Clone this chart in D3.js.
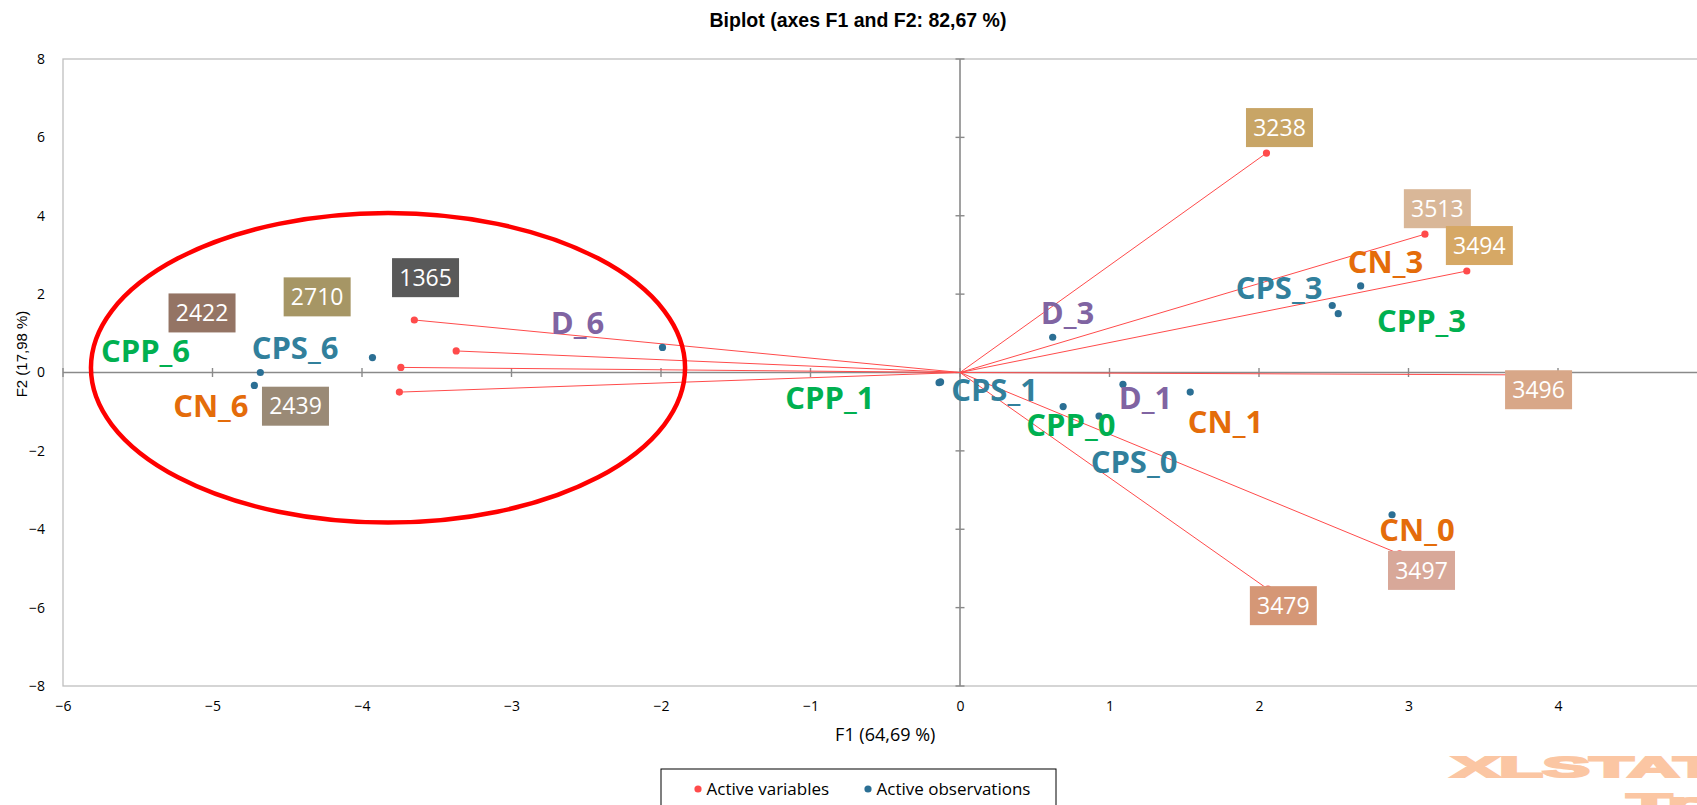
<!DOCTYPE html>
<html>
<head>
<meta charset="utf-8">
<script src="https://cdn.jsdelivr.net/npm/d3@7"></script>
<style>
  html, body { margin: 0; padding: 0; background: #ffffff; }
  svg { display: block; }
</style>
</head>
<body>
<svg id="chart" width="1697" height="805"></svg>
<script>
// ---------------- data ----------------
const titleText = "Biplot (axes F1 and F2: 82,67 %)";
const xAxisTitle = "F1 (64,69 %)";
const yAxisTitle = "F2 (17,98 %)";
const xTicks = [-6, -5, -4, -3, -2, -1, 0, 1, 2, 3, 4];
const yTicks = [-8, -6, -4, -2, 0, 2, 4, 6, 8];
const legendLabels = ["Active variables", "Active observations"];

// active variables (vectors)
const varNames  = ["1365", "2710", "2422", "2439", "3238", "3513", "3494", "3496", "3497", "3479"];
const varF1     = [-3.65, -3.37, -3.74, -3.75, 2.05, 3.11, 3.39, 3.72, 2.94, 2.06];
const varF2     = [1.34, 0.55, 0.13, -0.50, 5.60, 3.53, 2.59, -0.06, -4.63, -5.53];
const varLabelF1 = [-3.575, -4.30, -5.07, -4.445, 2.137, 3.193, 3.474, 3.87, 3.087, 2.163];
const varLabelF2 = [2.42, 1.93, 1.52, -0.86, 6.25, 4.18, 3.24, -0.44, -5.05, -5.95];

// active observations
const obsNames  = ["CPP_6", "CPS_6", "CN_6", "D_6", "CPP_1", "CPS_1", "D_1", "CN_1", "CPP_0", "CPS_0", "CN_0", "D_3", "CPS_3", "CN_3", "CPP_3"];
const obsF1     = [-4.68, -3.93, -4.72, -1.99, -0.13, -0.14, 1.09, 1.54, 0.69, 0.93, 2.89, 0.62, 2.49, 2.68, 2.53];
const obsF2     = [0.00, 0.38, -0.33, 0.64, -0.24, -0.26, -0.30, -0.50, -0.87, -1.11, -3.63, 0.90, 1.71, 2.21, 1.50];
const obsLabelF1 = [-5.448, -4.448, -5.011, -2.559, -0.870, 0.231, 1.241, 1.776, 0.742, 1.164, 3.057, 0.719, 2.134, 2.846, 3.087];
const obsLabelF2 = [0.545, 0.62, -0.86, 1.27, -0.655, -0.45, -0.64, -1.255, -1.345, -2.29, -4.03, 1.525, 2.165, 2.81, 1.31];

// highlighted group (ellipse) in F1/F2 units
const ellipseCenter = [-3.826, 0.12];
const ellipseRadii  = [1.987, 3.95];

// ---------------- styles ----------------
const groupColor = { CPP: "#00B050", CPS: "#31809C", CN: "#E46C0A", D: "#8064A2" };
const boxColor = {
  "1365": "#595959", "2710": "#A69665", "2422": "#947464", "2439": "#9A8A76",
  "3238": "#C8A566", "3513": "#D9B798", "3494": "#D6A865", "3496": "#D8A788",
  "3497": "#D8A899", "3479": "#D59776"
};
const redColor = "#FF4B4B";
const blueColor = "#2B6F94";

// ---------------- layout ----------------
const svg = d3.select("#chart");
const plot = { left: 63, top: 59, bottom: 686, right: 63 + 11 * 149.5 };

const x = d3.scaleLinear().domain([-6, 5]).range([plot.left, plot.right]);
const y = d3.scaleLinear().domain([-8, 8]).range([plot.bottom, plot.top]);

// title
svg.append("text")
  .attr("x", 858).attr("y", 27)
  .attr("text-anchor", "middle")
  .style("font-family", "'Liberation Sans', Arial, sans-serif")
  .style("font-weight", "bold")
  .style("font-size", "19.5px")
  .attr("fill", "#000")
  .text(titleText);

// plot frame
svg.append("rect")
  .attr("x", plot.left).attr("y", plot.top)
  .attr("width", plot.right - plot.left).attr("height", plot.bottom - plot.top)
  .attr("fill", "none").attr("stroke", "#BFBFBF").attr("stroke-width", 1.3);

// axes tick labels
const tickFont = "'Open Sans', sans-serif";
const gx = svg.append("g")
  .attr("transform", `translate(0,${plot.bottom})`)
  .call(d3.axisBottom(x).tickValues(xTicks).tickSize(0).tickPadding(15).tickFormat(d3.format("d")));
gx.select(".domain").remove();
gx.selectAll("text").style("font-family", tickFont).style("font-size", "14px").attr("fill", "#000");

const gy = svg.append("g")
  .attr("transform", `translate(${plot.left},0)`)
  .call(d3.axisLeft(y).tickValues(yTicks).tickSize(0).tickPadding(18).tickFormat(d3.format("d")));
gy.select(".domain").remove();
gy.selectAll("text").style("font-family", tickFont).style("font-size", "14px").attr("fill", "#000");

// axis titles
svg.append("text")
  .attr("x", (plot.left + plot.right) / 2).attr("y", 741)
  .attr("text-anchor", "middle")
  .style("font-family", tickFont).style("font-size", "18px")
  .attr("fill", "#000").text(xAxisTitle);

svg.append("text")
  .attr("transform", "translate(27,354) rotate(-90)")
  .attr("text-anchor", "middle")
  .style("font-family", "'Liberation Sans', Arial, sans-serif").style("font-size", "15px")
  .attr("fill", "#000").text(yAxisTitle);

// zero axes
const axisColor = "#8A8A8A";
svg.append("line")
  .attr("x1", x(0)).attr("x2", x(0)).attr("y1", y(8)).attr("y2", y(-8))
  .attr("stroke", axisColor).attr("stroke-width", 1.6);
svg.append("line")
  .attr("x1", x(-6)).attr("x2", x(5)).attr("y1", y(0)).attr("y2", y(0))
  .attr("stroke", axisColor).attr("stroke-width", 1.6);
svg.append("g").selectAll("line").data(yTicks).join("line")
  .attr("x1", x(0) - 4.5).attr("x2", x(0) + 4.5)
  .attr("y1", d => y(d)).attr("y2", d => y(d))
  .attr("stroke", axisColor).attr("stroke-width", 1.4);
svg.append("g").selectAll("line").data(xTicks).join("line")
  .attr("y1", y(0) - 4.5).attr("y2", y(0) + 4.5)
  .attr("x1", d => x(d)).attr("x2", d => x(d))
  .attr("stroke", axisColor).attr("stroke-width", 1.4);

// variable vectors
const vars = varNames.map((n, i) => ({ name: n, f1: varF1[i], f2: varF2[i], lx: varLabelF1[i], ly: varLabelF2[i] }));
const obs = obsNames.map((n, i) => ({ name: n, f1: obsF1[i], f2: obsF2[i], lx: obsLabelF1[i], ly: obsLabelF2[i], group: n.split("_")[0] }));

svg.append("g").selectAll("line").data(vars).join("line")
  .attr("x1", x(0)).attr("y1", y(0))
  .attr("x2", d => x(d.f1)).attr("y2", d => y(d.f2))
  .attr("stroke", redColor).attr("stroke-width", 1);

// ellipse highlight
svg.append("ellipse")
  .attr("cx", x(ellipseCenter[0])).attr("cy", y(ellipseCenter[1]))
  .attr("rx", x(ellipseCenter[0] + ellipseRadii[0]) - x(ellipseCenter[0]))
  .attr("ry", y(ellipseCenter[1]) - y(ellipseCenter[1] + ellipseRadii[1]))
  .attr("fill", "none").attr("stroke", "#FF0000").attr("stroke-width", 4.5);

// points
svg.append("g").selectAll("circle").data(vars).join("circle")
  .attr("cx", d => x(d.f1)).attr("cy", d => y(d.f2)).attr("r", 3.6)
  .attr("fill", redColor);
svg.append("g").selectAll("circle").data(obs).join("circle")
  .attr("cx", d => x(d.f1)).attr("cy", d => y(d.f2)).attr("r", 3.6)
  .attr("fill", blueColor);

// variable label boxes
const boxW = 67, boxH = 39;
const vl = svg.append("g").selectAll("g").data(vars).join("g")
  .attr("transform", d => `translate(${x(d.lx)},${y(d.ly)})`);
vl.append("rect")
  .attr("x", -boxW / 2).attr("y", -boxH / 2).attr("width", boxW).attr("height", boxH)
  .attr("fill", d => boxColor[d.name]);
vl.append("text")
  .attr("text-anchor", "middle").attr("dy", "0.357em")
  .style("font-family", tickFont).style("font-size", "23px")
  .attr("fill", "#ffffff")
  .text(d => d.name);

// observation labels
svg.append("g").selectAll("text").data(obs).join("text")
  .attr("x", d => x(d.lx)).attr("y", d => y(d.ly))
  .attr("dy", "0.357em")
  .attr("text-anchor", "middle")
  .style("font-family", tickFont).style("font-weight", "bold").style("font-size", "31px")
  .attr("fill", d => groupColor[d.group])
  .text(d => d.name);

// legend
const lg = svg.append("g");
lg.append("rect").attr("x", 661).attr("y", 769).attr("width", 395).attr("height", 60)
  .attr("fill", "#fff").attr("stroke", "#000").attr("stroke-width", 1);
const legendColors = [redColor, blueColor];
const legendX = [698, 868];
legendLabels.forEach((t, i) => {
  lg.append("circle").attr("cx", legendX[i]).attr("cy", 789).attr("r", 3.6).attr("fill", legendColors[i]);
  lg.append("text").attr("x", legendX[i] + 8.5).attr("y", 794.5)
    .style("font-family", tickFont).style("font-size", "17px").attr("fill", "#000").text(t);
});

// watermark
svg.append("text")
  .attr("x", 1452).attr("y", 777)
  .attr("textLength", 265).attr("lengthAdjust", "spacingAndGlyphs")
  .style("font-family", "'Liberation Sans', Arial, sans-serif").style("font-weight", "bold").style("font-size", "29px")
  .attr("fill", "#FBC6A3").attr("stroke", "#FBC6A3").attr("stroke-width", 2.2)
  .text("XLSTAT");
svg.append("text")
  .attr("x", 1627).attr("y", 814)
  .attr("textLength", 150).attr("lengthAdjust", "spacingAndGlyphs")
  .style("font-family", "'Liberation Sans', Arial, sans-serif").style("font-weight", "bold").style("font-size", "29px")
  .attr("fill", "#FBC6A3").attr("stroke", "#FBC6A3").attr("stroke-width", 2.2)
  .text("Trial");
</script>
</body>
</html>
